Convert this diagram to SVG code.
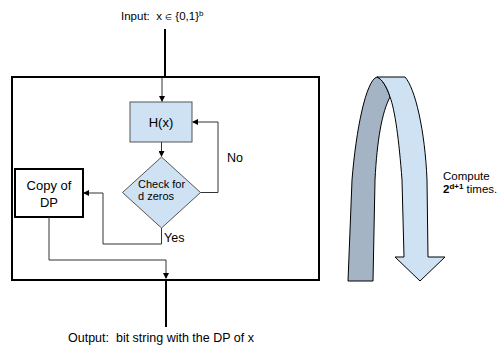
<svg xmlns="http://www.w3.org/2000/svg" width="503" height="345" viewBox="0 0 503 345">
  <style>
    text { font-family: "Liberation Sans", Arial, sans-serif; fill: #000; white-space: pre; }
    .thin { fill: none; stroke: #333; stroke-width: 1; }
    .thick { fill: none; stroke: #000; stroke-width: 2; }
    .proc { fill: #cfe2f3; stroke: #555; stroke-width: 1; }
  </style>
  <defs>
    <marker id="ah" markerWidth="6" markerHeight="6" refX="5" refY="3" orient="auto" markerUnits="userSpaceOnUse">
      <path d="M0,0 L6,3 L0,6 Z" fill="#000"/>
    </marker>
  </defs>
  <rect width="503" height="345" fill="#fff"/>

  <g id="frame">
    <rect x="12" y="77" width="307" height="203" fill="none" stroke="#000" stroke-width="2"/>
  </g>

  <g id="input">
    <text x="121" y="20" font-size="11.5" xml:space="preserve">Input:  x <tspan font-size="8">∈</tspan> {0,1}<tspan font-size="8" dy="-4">b</tspan></text>
  </g>

  <g id="hash">
    <rect class="proc" x="130" y="102" width="62" height="40"/>
    <text x="161" y="126.5" font-size="13" text-anchor="middle">H(x)</text>
  </g>

  <g id="check">
    <polygon class="proc" points="161.5,157 200.5,192.5 161.5,228 122.5,192.5"/>
    <text x="138" y="188" font-size="11">Check for</text>
    <text x="138" y="200" font-size="11">d zeros</text>
  </g>

  <g id="copy">
    <rect x="15" y="169" width="68" height="48" fill="#fff" stroke="#000" stroke-width="2"/>
    <text x="49" y="190" font-size="13" text-anchor="middle">Copy of</text>
    <text x="49" y="206.5" font-size="13" text-anchor="middle">DP</text>
  </g>

  <g id="loop-arrow">
    <path d="M377,77 C366,80 356,130 352,180 L348,281 L373,281 L375,180 C377,140 382,112 390,97 C387,87 382,79 377,77 Z" fill="#a5b4c4" stroke="#000" stroke-width="1"/>
    <path d="M377,77 L405,77 C415,88 425,130 427,180 L428,257 L445,257 L420,281 L395,257 L404,257 L402,180 C399,140 395,110 390,97 C387,87 382,79 377,77 Z" fill="#cfe2f3" stroke="#000" stroke-width="1"/>
    <text x="443" y="180" font-size="11.5">Compute</text>
    <text x="443" y="193" font-size="11.5" xml:space="preserve"><tspan font-weight="bold">2</tspan><tspan font-weight="bold" font-size="8" dy="-4">d+1</tspan><tspan dy="4"> times.</tspan></text>
  </g>

  <g id="connectors">
    <line class="thick" x1="165" y1="29" x2="165" y2="77"/>
    <line class="thin" x1="162" y1="78" x2="162" y2="101" marker-end="url(#ah)"/>
    <line class="thin" x1="161.5" y1="142" x2="161.5" y2="156" marker-end="url(#ah)"/>
    <polyline class="thin" points="200.5,192.5 218,192.5 218,122 193,122" marker-end="url(#ah)"/>
    <polyline class="thin" points="161.5,228 161.5,244 103,244 103,193 84,193" marker-end="url(#ah)"/>
    <polyline class="thin" points="49,217 49,260 166,260 166,278" marker-end="url(#ah)"/>
    <line class="thick" x1="166" y1="280" x2="166" y2="327"/>
    <text x="227" y="161.5" font-size="12.5">No</text>
    <text x="164" y="242" font-size="12.5">Yes</text>
  </g>

  <g id="output">
    <text x="68" y="342" font-size="12.5" xml:space="preserve">Output:  bit string with the DP of x</text>
  </g>
</svg>
